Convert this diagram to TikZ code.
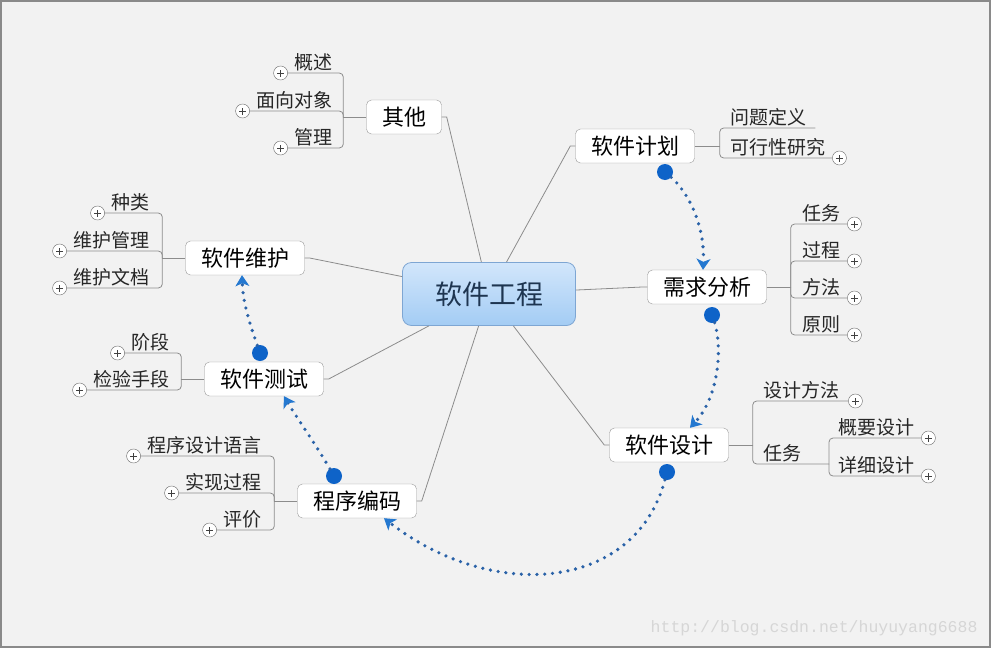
\documentclass[tikz,border=0pt]{standalone}
\usepackage{fontspec}
\usepackage{tikz}
\usetikzlibrary{arrows.meta,positioning,calc}
\newfontfamily\zhfont{Noto Sans CJK SC}
\newfontfamily\wmfont{Liberation Mono}
\definecolor{bg}{HTML}{F2F2F2}
\definecolor{frm}{HTML}{8A8A8A}
\definecolor{ln}{HTML}{8C8C8C}
\definecolor{bx}{HTML}{9A9A9A}
\definecolor{txt}{HTML}{262626}
\definecolor{rtop}{HTML}{D2E6FB}
\definecolor{rbot}{HTML}{A3CCF4}
\definecolor{rln}{HTML}{7EA6D3}
\definecolor{rtxt}{HTML}{1E3550}
\definecolor{flw}{HTML}{2A62A8}
\definecolor{dotc}{HTML}{0E63C8}
\definecolor{tipc}{HTML}{2478D0}
\definecolor{wmc}{HTML}{D6D6D6}
\tikzset{
  root/.style={draw=rln,thick,rounded corners=9pt,top color=rtop,bottom color=rbot,minimum width=173pt,minimum height=63pt,text=rtxt,font=\zhfont\fontsize{27}{30}\selectfont},
  topic/.style={draw=bx,rounded corners=5pt,fill=white,minimum height=34pt,inner xsep=15.5pt,font=\zhfont\fontsize{22}{24}\selectfont},
  sub/.style={inner sep=2pt,text=txt,font=\zhfont\fontsize{19}{21}\selectfont},
  plus/.style={circle,draw=black!60,fill=white,minimum size=14pt,inner sep=0pt,
    path picture={\draw[black!75,line width=0.7pt]
      ([xshift=-3.5pt]path picture bounding box.center) -- ([xshift=3.5pt]path picture bounding box.center)
      ([yshift=-3.5pt]path picture bounding box.center) -- ([yshift=3.5pt]path picture bounding box.center);}},
  spoke/.style={draw=ln,line width=0.8pt},
  br/.style={draw=ln,line width=0.8pt,rounded corners=4pt},
  hdot/.style={circle,fill=dotc,minimum size=16pt,inner sep=0pt},
  flow/.style={draw=flw,line width=3.6pt,line cap=round,dash pattern=on 0pt off 7.8pt,
    -{Stealth[length=11pt,width=14pt,inset=3pt,line width=1pt,color=tipc,fill=tipc]}},
}
\begin{document}
\begin{tikzpicture}[x=1pt,y=-1pt]
  \fill[bg] (0,0) rectangle (991,648);
  \useasboundingbox (0,0) rectangle (991,648);
  \draw[frm,line width=1.5pt] (1,1) rectangle (990,647);

  \node[root] (se) at (489,294) {软件工程};
  \node[topic] (oth) at (404,117) {其他};
  \node[topic] (plan) at (635,146) {软件计划};
  \node[topic] (req) at (707,287) {需求分析};
  \node[topic] (des) at (669,445) {软件设计};
  \node[topic] (cod) at (357,501) {程序编码};
  \node[topic] (tst) at (264,379) {软件测试};
  \node[topic] (mnt) at (245,258) {软件维护};

  \foreach \m in {oth,mnt,tst,cod}
    \draw[spoke] (se) -- ([xshift=5pt]\m.east) -- (\m.east);
  \foreach \m in {plan,req,des}
    \draw[spoke] (se) -- ([xshift=-5pt]\m.west) -- (\m.west);

  % left side
  \coordinate (othb) at ([xshift=-23pt]oth.west);
  \draw[spoke] (oth.west) -- (othb);
  \foreach \t/\y/\n in {概述/73/1,面向对象/111/2,管理/148/3} {
    \node[sub,anchor=south east] (oth\n) at (335,\y) {\t};
    \node[plus] (othp\n) at ([xshift=-12pt]oth\n.south west) {};
    \draw[br] (othp\n) -- (othb |- othp\n) -- (othb);
  }
  \coordinate (mntb) at ([xshift=-23pt]mnt.west);
  \draw[spoke] (mnt.west) -- (mntb);
  \foreach \t/\y/\n in {种类/213/1,维护管理/251/2,维护文档/288/3} {
    \node[sub,anchor=south east] (mnt\n) at (152,\y) {\t};
    \node[plus] (mntp\n) at ([xshift=-12pt]mnt\n.south west) {};
    \draw[br] (mntp\n) -- (mntb |- mntp\n) -- (mntb);
  }
  \coordinate (tstb) at ([xshift=-23pt]tst.west);
  \draw[spoke] (tst.west) -- (tstb);
  \foreach \t/\y/\n in {阶段/353/1,检验手段/390/2} {
    \node[sub,anchor=south east] (tst\n) at (172,\y) {\t};
    \node[plus] (tstp\n) at ([xshift=-12pt]tst\n.south west) {};
    \draw[br] (tstp\n) -- (tstb |- tstp\n) -- (tstb);
  }
  \coordinate (codb) at ([xshift=-23pt]cod.west);
  \draw[spoke] (cod.west) -- (codb);
  \foreach \t/\y/\n in {程序设计语言/456/1,实现过程/493/2,评价/530/3} {
    \node[sub,anchor=south east] (cod\n) at (264,\y) {\t};
    \node[plus] (codp\n) at ([xshift=-12pt]cod\n.south west) {};
    \draw[br] (codp\n) -- (codb |- codp\n) -- (codb);
  }

  % right side
  \coordinate (planb) at ([xshift=25pt]plan.east);
  \draw[spoke] (plan.east) -- (planb);
  \node[sub,anchor=south west] (plan1) at (728,128) {问题定义};
  \node[sub,anchor=south west] (plan2) at (728,158) {可行性研究};
  \node[plus] (planp2) at ([xshift=12pt]plan2.south east) {};
  \draw[br] ([xshift=7pt]plan1.south east) -- (planb |- plan1.south) -- (planb |- plan2.south) -- (planp2);

  \coordinate (reqb) at ([xshift=24pt]req.east);
  \draw[spoke] (req.east) -- (reqb);
  \foreach \t/\y/\n in {任务/224/1,过程/261/2,方法/298/3,原则/335/4} {
    \node[sub,anchor=south west] (req\n) at (800,\y) {\t};
    \node[plus] (reqp\n) at ([xshift=12pt]req\n.south east) {};
    \draw[br] (reqp\n) -- (reqb |- reqp\n) -- (reqb);
  }

  \coordinate (desb) at ([xshift=24pt]des.east);
  \draw[spoke] (des.east) -- (desb);
  \node[sub,anchor=south west] (des1) at (761,401) {设计方法};
  \node[plus] (desp1) at ([xshift=14pt]des1.south east) {};
  \draw[br] (desp1) -- (desb |- desp1) -- (desb);
  \node[sub,anchor=south west] (des2) at (761,464) {任务};
  \coordinate (tskb) at (829,464);
  \draw[br] (tskb) -- (desb |- tskb) -- (desb);
  \foreach \t/\y/\n in {概要设计/438/1,详细设计/476/2} {
    \node[sub,anchor=south west] (tsk\n) at (836,\y) {\t};
    \node[plus] (tskp\n) at ([xshift=12pt]tsk\n.south east) {};
    \draw[br] (tskp\n) -- (tskb |- tskp\n) -- (tskb);
  }

  % process flow
  \node[hdot] (d1) at (665,172) {};
  \node[hdot] (d2) at (712,315) {};
  \node[hdot] (d3) at (667,472) {};
  \node[hdot] (d4) at (334,476) {};
  \node[hdot] (d5) at (260,353) {};
  \draw[flow] (d1) .. controls (688,192) and (705,225) .. ([xshift=-4pt]req.north);
  \draw[flow] (d2) .. controls (722,345) and (720,395) .. ([xshift=21pt]des.north);
  \draw[flow] (d3) .. controls (635,592) and (492,602) .. ([xshift=27pt]cod.south);
  \draw[flow] (d4) .. controls (318,448) and (295,415) .. ([xshift=20pt]tst.south);
  \draw[flow] (d5) .. controls (252,330) and (243,305) .. ([xshift=-3pt]mnt.south);

  \node[font=\wmfont\fontsize{16.5}{18}\selectfont,text=wmc,anchor=east] (wm) at (981,628) {http://blog.csdn.net/huyuyang6688};
\end{tikzpicture}
\end{document}
